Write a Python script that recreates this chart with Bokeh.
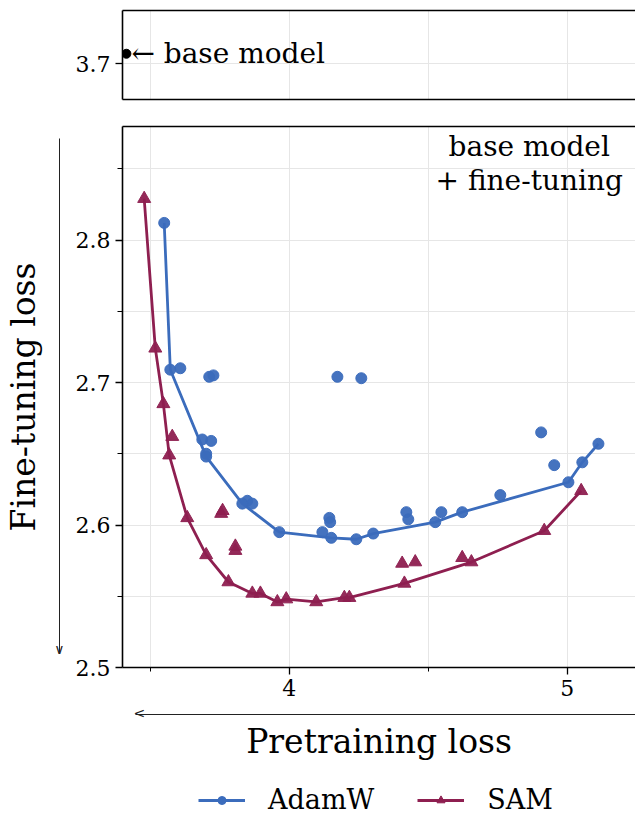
from bokeh.plotting import figure
from bokeh.models import (FixedTicker, LinearAxis, Label, Legend, LegendItem, Range1d)
from bokeh.layouts import column
from bokeh.embed import file_html
from bokeh.resources import INLINE

# ---------------- data ----------------
adamw_front_x = [3.550, 3.572, 3.701, 3.831, 3.964, 4.151, 4.241, 4.302, 4.525, 4.622, 5.004, 5.054, 5.112]
adamw_front_y = [2.812, 2.709, 2.648, 2.615, 2.595, 2.591, 2.590, 2.594, 2.602, 2.609, 2.630, 2.644, 2.657]
adamw_other_x = [3.608, 3.712, 3.727, 4.173, 4.259, 3.687, 3.719, 3.701, 3.849, 3.867,
                 4.119, 4.144, 4.147, 4.421, 4.428, 4.547, 4.759, 4.906, 4.953]
adamw_other_y = [2.710, 2.704, 2.705, 2.704, 2.703, 2.660, 2.659, 2.650, 2.617, 2.615,
                 2.595, 2.605, 2.602, 2.609, 2.604, 2.609, 2.621, 2.665, 2.642]

sam_front_x = [3.478, 3.518, 3.547, 3.568, 3.633, 3.701, 3.781, 3.867, 3.896, 3.957,
               3.989, 4.097, 4.198, 4.216, 4.414, 4.655, 4.917, 5.050]
sam_front_y = [2.829, 2.724, 2.685, 2.649, 2.605, 2.579, 2.560, 2.552, 2.552, 2.546,
               2.548, 2.546, 2.549, 2.549, 2.559, 2.574, 2.596, 2.624]
sam_other_x = [3.579, 3.755, 3.760, 3.806, 3.806, 4.406, 4.453, 4.622]
sam_other_y = [2.662, 2.608, 2.610, 2.582, 2.585, 2.573, 2.574, 2.577]

base_x = [3.414]
base_y = [3.711]

series_names = ["AdamW", "SAM"]

x_major = [4, 5]
x_minor = [3.5, 4.5]
y_major = [2.5, 2.6, 2.7, 2.8]
y_minor = [2.55, 2.65, 2.75, 2.85]
top_y_major = [3.7]

# ---------------- style ----------------
BLUE = "#3B6CBC"
RED = "#8E1F50"
GRID = "#e6e6e6"
SERIF = "DejaVu Serif"
FW = 513
XR = (3.4, 3.4 + FW / 278.0)
YR = (2.5, 2.5 + 541 / 1425.0)
LEFT = 122
X_ARROW = (3.4468, XR[1])      # shaft extent of the "decreasing pretraining loss" arrow
Y_ARROW = (2.5098, 2.8712)     # shaft extent of the "decreasing fine-tuning loss" arrow


def style_axis(ax, labels=True):
    ax.axis_line_color = "black"
    ax.axis_line_width = 1.6
    ax.major_tick_line_color = "black"
    ax.minor_tick_line_color = "black"
    ax.major_tick_line_width = 1.3
    ax.minor_tick_line_width = 1.0
    ax.major_tick_in = 0
    ax.minor_tick_in = 0
    ax.major_label_text_font = SERIF
    ax.major_label_text_font_size = "22px" if labels else "0px"
    ax.major_label_text_color = "black"
    if not labels:
        ax.major_tick_out = 0
        ax.minor_tick_out = 0
        ax.major_label_standoff = 0


def bare_axis(ticks=(), **kw):
    ax = LinearAxis(ticker=FixedTicker(ticks=list(ticks), minor_ticks=[]), **kw)
    style_axis(ax, labels=False)
    return ax


# ---------------- top panel ----------------
top = figure(frame_width=FW, frame_height=89, output_backend="svg", toolbar_location=None,
             x_range=Range1d(*XR), y_range=Range1d(3.6596, 3.7596),
             min_border_left=LEFT, min_border_right=0, min_border_top=10, min_border_bottom=9,
             outline_line_color=None, background_fill_color="white", border_fill_color="white")
top.xaxis.ticker = FixedTicker(ticks=x_major, minor_ticks=x_minor)
top.yaxis.ticker = FixedTicker(ticks=top_y_major, minor_ticks=[])
style_axis(top.yaxis[0])
top.yaxis.major_tick_out = 7
top.yaxis.major_label_standoff = 5
style_axis(top.xaxis[0], labels=False)
top.add_layout(bare_axis(), "above")
top.xgrid.grid_line_color = GRID
top.xgrid.minor_grid_line_color = GRID
top.ygrid.grid_line_color = GRID
top.scatter(base_x, base_y, size=9, color="black", marker="circle")
top.add_layout(Label(x=base_x[0], y=base_y[0], text="\u2190 base model", x_offset=5,
                     text_baseline="middle", text_font=SERIF, text_font_size="28px",
                     text_color="black"))

# ---------------- main panel ----------------
p = figure(frame_width=FW, frame_height=541, output_backend="svg", toolbar_location=None,
           x_range=Range1d(*XR), y_range=Range1d(*YR),
           min_border_left=LEFT, min_border_right=0, min_border_top=18, min_border_bottom=95,
           outline_line_color=None, background_fill_color="white", border_fill_color="white")
p.xaxis.ticker = FixedTicker(ticks=x_major, minor_ticks=x_minor)
p.yaxis.ticker = FixedTicker(ticks=y_major, minor_ticks=y_minor)
style_axis(p.xaxis[0])
style_axis(p.yaxis[0])
p.xaxis.major_tick_out = 7
p.xaxis.minor_tick_out = 4
p.yaxis.major_tick_out = 7
p.yaxis.minor_tick_out = 5
p.xaxis.major_label_standoff = 5
p.yaxis.major_label_standoff = 5
# spacer labels that push the arrow axes outward
for ax, so in ((p.xaxis[0], 12), (p.yaxis[0], 9)):
    ax.axis_label = " "
    ax.axis_label_text_font_size = "1px"
    ax.axis_label_standoff = so

p.add_layout(bare_axis(), "above")

# arrows: axis lines limited by bounds, arrow heads as a single tick label
x_tip = X_ARROW[0] + 0.014
y_tip = Y_ARROW[0] + 0.0032
x_arrow_axis = bare_axis(ticks=[x_tip], bounds=X_ARROW, axis_label="Pretraining loss")
x_arrow_axis.major_label_overrides = {x_tip: "<"}
x_arrow_axis.major_label_standoff = -10
y_arrow_axis = bare_axis(ticks=[y_tip], bounds=Y_ARROW, axis_label="Fine-tuning loss")
y_arrow_axis.major_label_overrides = {y_tip: "\u2228"}
y_arrow_axis.major_label_standoff = -5
for ax, so in ((x_arrow_axis, -2), (y_arrow_axis, 8)):
    ax.axis_line_width = 1.0
    ax.axis_line_color = "#222222"
    ax.major_label_text_font = "DejaVu Sans"
    ax.major_label_text_font_size = "14px"
    ax.major_label_text_color = "#222222"
    ax.axis_label_text_font = SERIF
    ax.axis_label_text_font_size = "33px"
    ax.axis_label_text_font_style = "normal"
    ax.axis_label_text_color = "black"
    ax.axis_label_standoff = so
p.add_layout(x_arrow_axis, "below")
p.add_layout(y_arrow_axis, "left")

p.xgrid.grid_line_color = GRID
p.xgrid.minor_grid_line_color = GRID
p.ygrid.grid_line_color = GRID
p.ygrid.minor_grid_line_color = GRID

p.line(adamw_front_x, adamw_front_y, line_color=BLUE, line_width=2.8)
p.scatter(adamw_other_x, adamw_other_y, marker="circle", size=11, color=BLUE, alpha=0.95)
p.scatter(adamw_front_x, adamw_front_y, marker="circle", size=11, color=BLUE, alpha=0.95)

p.line(sam_front_x, sam_front_y, line_color=RED, line_width=2.8)
p.scatter(sam_other_x, sam_other_y, marker="triangle", size=13, color=RED, alpha=0.95)
p.scatter(sam_front_x, sam_front_y, marker="triangle", size=13, color=RED, alpha=0.95)

p.add_layout(Label(x=4.863, y=2.8537, text="base model", text_align="center",
                   text_font=SERIF, text_font_size="28px", text_color="black"))
p.add_layout(Label(x=4.863, y=2.8305, text="+ fine-tuning", text_align="center",
                   text_font=SERIF, text_font_size="28px", text_color="black"))

# ---------------- legend strip ----------------
# the same series are drawn here, but outside this strip's (0, 1) ranges, so only
# their legend glyphs are visible
lf = figure(width=635, height=53, output_backend="svg", toolbar_location=None,
            x_range=Range1d(0, 1), y_range=Range1d(0, 1),
            x_axis_location=None, y_axis_location=None,
            min_border_left=0, min_border_right=0, min_border_top=0, min_border_bottom=0,
            outline_line_color=None, background_fill_color="white", border_fill_color="white")
lf.grid.visible = False
la_line = lf.line(adamw_front_x, adamw_front_y, line_color=BLUE, line_width=2.8)
la_pts = lf.scatter(adamw_front_x, adamw_front_y, marker="circle", size=11, color=BLUE)
ls_line = lf.line(sam_front_x, sam_front_y, line_color=RED, line_width=2.8)
ls_pts = lf.scatter(sam_front_x, sam_front_y, marker="triangle", size=13, color=RED)
legend = Legend(items=[LegendItem(label=series_names[0], renderers=[la_line, la_pts]),
                       LegendItem(label=series_names[1], renderers=[ls_line, ls_pts])],
                orientation="horizontal", location=(76, 1))
legend.label_text_font = SERIF
legend.label_text_font_size = "27px"
legend.label_text_color = "black"
legend.glyph_width = 47
legend.label_standoff = 23
legend.spacing = 43
legend.border_line_color = None
legend.background_fill_alpha = 0
legend.padding = 0
legend.margin = 0
lf.add_layout(legend)

layout = column(top, p, lf, spacing=0)
open("out.html", "w").write(file_html(layout, INLINE))
